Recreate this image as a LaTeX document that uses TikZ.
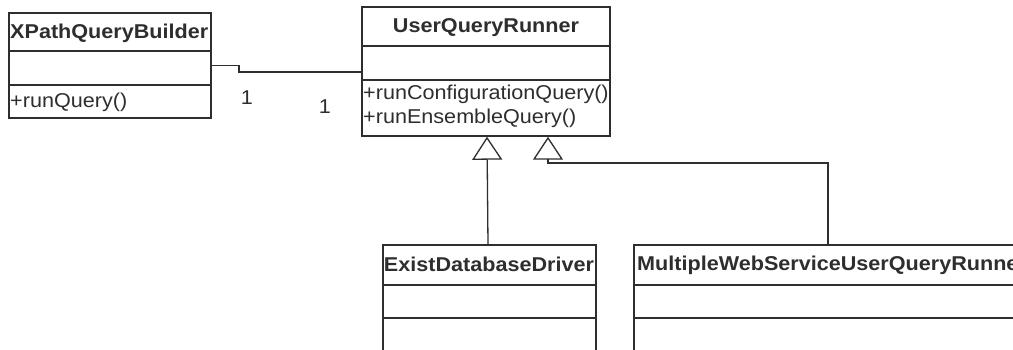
\documentclass[tikz,border=0pt]{standalone}
\usepackage{fontspec}
\setmainfont{Liberation Sans}[FakeStretch=1.08]
\usetikzlibrary{arrows.meta}
\definecolor{ink}{HTML}{2E2E2E}
\tikzset{
  umlbox/.style={draw=ink, line width=1.5pt, rectangle, inner sep=0pt},
  sep/.style={draw=ink, line width=1.5pt},
  conn/.style={draw=ink, line width=1.3pt},
  gen/.style={conn, -{Triangle[open, length=23pt, width=30pt, line width=1.3pt]}},
  txt/.style={inner sep=0pt, text=ink, font=\fontsize{20}{24}\selectfont},
  hdr/.style={txt, font=\fontsize{20}{24}\selectfont\bfseries},
}
\begin{document}
\begin{tikzpicture}[x=1pt, y=-1pt]
\useasboundingbox (0,0) rectangle (1013,350);
\fill[white] (0,0) rectangle (1013,350);
\clip (0,0) rectangle (1013,350);
% boxes
\node[umlbox, minimum width=202pt, minimum height=105pt] (xb) at (110,65.5) {};
\node[umlbox, minimum width=248pt, minimum height=129pt] (uqr) at (486,71.5) {};
\node[umlbox, minimum width=213pt, minimum height=150pt] (edd) at (489.5,320) {};
\node[umlbox, minimum width=466pt, minimum height=150pt] (mws) at (867,320) {};
% separators
\draw[sep] (xb.west |- 0,51) -- (xb.east |- 0,51);
\draw[sep] (xb.west |- 0,85) -- (xb.east |- 0,85);
\draw[sep] (uqr.west |- 0,46) -- (uqr.east |- 0,46);
\draw[sep] (uqr.west |- 0,80) -- (uqr.east |- 0,80);
\draw[sep] (edd.west |- 0,285) -- (edd.east |- 0,285);
\draw[sep] (edd.west |- 0,318) -- (edd.east |- 0,318);
\draw[sep] (mws.west |- 0,285) -- (mws.east |- 0,285);
\draw[sep] (mws.west |- 0,318) -- (mws.east |- 0,318);
% texts
\node[hdr, anchor=base west] (xbname) at (10,39) {XPathQueryBuilder};
\node[txt, anchor=base west] (xbop) at (10,108) {+runQuery()};
\node[hdr, anchor=base] (uqrname) at (486,33) {UserQueryRunner};
\node[txt, anchor=base west] (uqrop1) at (363,100) {+runConfigurationQuery()};
\node[txt, anchor=base west] (uqrop2) at (363,124) {+runEnsembleQuery()};
\node[hdr, anchor=base] (eddname) at (489,271) {ExistDatabaseDriver};
\node[hdr, anchor=base west] (mwsname) at (637,270) {MultipleWebServiceUserQueryRunner};
\node[txt, anchor=base] (m1) at (247,105) {1};
\node[txt, anchor=base] (m2) at (325,114) {1};
% association
\draw[conn] (xb.east) -- (239,65.5) -- (239,72) -- (uqr.west |- 0,72);
% generalizations
\draw[gen] (edd.north -| 488,0) -- (uqr.south -| 487,0);
\draw[gen] (mws.north -| 828,0) |- (548,163) -- (uqr.south -| 548,0);
\end{tikzpicture}
\end{document}
